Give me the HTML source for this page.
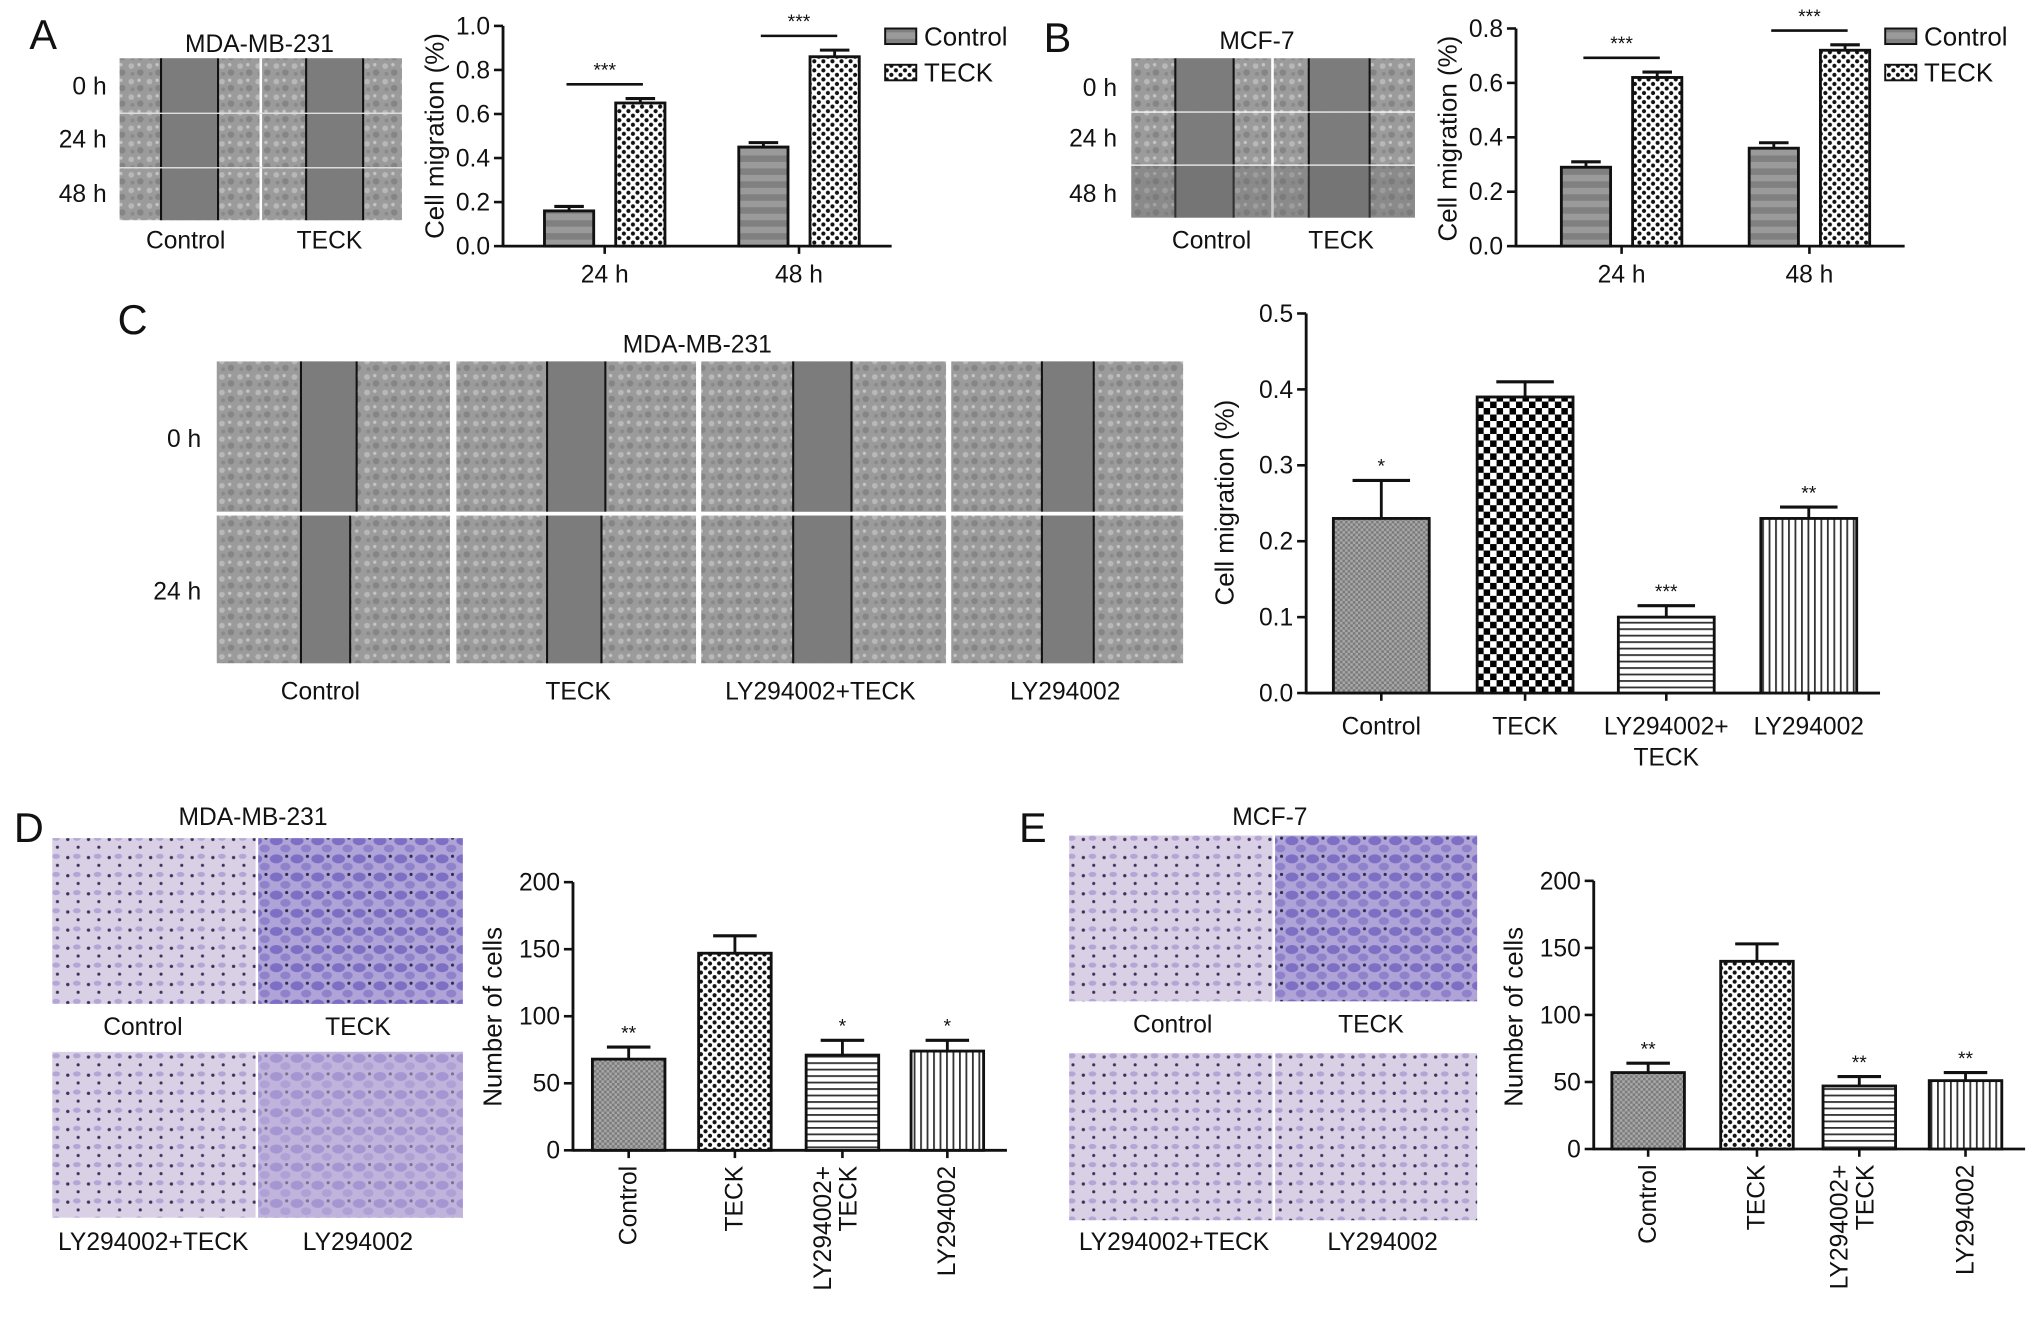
<!DOCTYPE html>
<html><head><meta charset="utf-8">
<style>
html,body{margin:0;padding:0;background:#fff;}
svg{display:block;font-family:"Liberation Sans",Arial,sans-serif;}
</style></head>
<body>
<svg id="fig" width="2032" height="1320" viewBox="0 0 1568 1019" xmlns="http://www.w3.org/2000/svg">
<defs>
  <pattern id="cells" width="14" height="12" patternUnits="userSpaceOnUse">
    <rect width="14" height="12" fill="#9b9b9b"/>
    <circle cx="3" cy="3" r="2.2" fill="#b8b8b8"/>
    <circle cx="10" cy="8" r="2.5" fill="#858585"/>
    <circle cx="9" cy="2" r="1.3" fill="#c4c4c4"/>
    <circle cx="4" cy="9" r="1.5" fill="#8a8a8a"/>
  </pattern>
  <pattern id="purple" width="16" height="14" patternUnits="userSpaceOnUse">
    <rect width="16" height="14" fill="#d9d0e6"/>
    <circle cx="4" cy="4" r="1.3" fill="#3a3358"/>
    <circle cx="12" cy="10" r="1.2" fill="#3a3358"/>
    <ellipse cx="11" cy="3" rx="3" ry="2" fill="#b3a6d6"/>
  </pattern>
  <pattern id="purpleDense" width="16" height="14" patternUnits="userSpaceOnUse">
    <rect width="16" height="14" fill="#b0a3d8"/>
    <ellipse cx="5" cy="5" rx="5" ry="3.5" fill="#7d6fc4"/>
    <ellipse cx="12" cy="11" rx="4" ry="3" fill="#8f82cb"/>
    <circle cx="13" cy="3" r="1.2" fill="#2e2850"/>
  </pattern>
  <pattern id="pGray" width="4" height="4" patternUnits="userSpaceOnUse">
    <rect width="4" height="4" fill="#a8a8a8"/>
    <rect width="2" height="2" fill="#7a7a7a"/><rect x="2" y="2" width="2" height="2" fill="#7a7a7a"/>
  </pattern>
  <pattern id="pStripe" width="4" height="10" patternUnits="userSpaceOnUse">
    <rect width="4" height="10" fill="#9a9a9a"/>
    <rect width="4" height="5" fill="#808080"/>
  </pattern>
  <pattern id="pChk" width="10" height="10" patternUnits="userSpaceOnUse">
    <rect width="10" height="10" fill="#fff"/>
    <rect width="5" height="5" fill="#000"/><rect x="5" y="5" width="5" height="5" fill="#000"/>
  </pattern>
  <pattern id="pChkS" width="7" height="7" patternUnits="userSpaceOnUse">
    <rect width="7" height="7" fill="#fff"/>
    <circle cx="1.8" cy="1.8" r="1.6" fill="#111"/><circle cx="5.3" cy="5.3" r="1.6" fill="#111"/>
  </pattern>
  <pattern id="pH" width="6" height="5" patternUnits="userSpaceOnUse">
    <rect width="6" height="5" fill="#fff"/><rect width="6" height="1.4" fill="#333"/>
  </pattern>
  <pattern id="pV" width="5" height="6" patternUnits="userSpaceOnUse">
    <rect width="5" height="6" fill="#fff"/><rect width="1.4" height="6" fill="#333"/>
  </pattern>
</defs>
<g id="root"></g>
</svg>
<script>
// ---- data ----
const aCategories = ["24 h", "48 h"];
const aControl = [0.16, 0.45];
const aControlErr = [0.02, 0.02];
const aTeck = [0.65, 0.86];
const aTeckErr = [0.02, 0.03];
const aTicks = [0.0, 0.2, 0.4, 0.6, 0.8, 1.0];

const bCategories = ["24 h", "48 h"];
const bControl = [0.29, 0.36];
const bControlErr = [0.02, 0.02];
const bTeck = [0.62, 0.72];
const bTeckErr = [0.02, 0.02];
const bTicks = [0.0, 0.2, 0.4, 0.6, 0.8];

const cCategories = ["Control", "TECK", "LY294002+|TECK", "LY294002"];
const cValues = [0.23, 0.39, 0.10, 0.23];
const cErrors = [0.05, 0.02, 0.015, 0.015];
const cStars = ["*", "", "***", "**"];
const cTicks = [0.0, 0.1, 0.2, 0.3, 0.4, 0.5];

const dCategories = ["Control", "TECK", "LY294002+|TECK", "LY294002"];
const dValues = [68, 147, 71, 74];
const dErrors = [9, 13, 11, 8];
const dStars = ["**", "", "*", "*"];
const dTicks = [0, 50, 100, 150, 200];

const eCategories = ["Control", "TECK", "LY294002+|TECK", "LY294002"];
const eValues = [57, 140, 47, 51];
const eErrors = [7, 13, 7, 6];
const eStars = ["**", "", "**", "**"];
const eTicks = [0, 50, 100, 150, 200];

// ---- helpers ----
const NS = "http://www.w3.org/2000/svg";
const root = document.getElementById("root");
function mk(tag, attrs, parent, text) {
  const e = document.createElementNS(NS, tag);
  for (const k in attrs) e.setAttribute(k, attrs[k]);
  if (text !== undefined) e.textContent = text;
  (parent || root).appendChild(e);
  return e;
}
function txt(x, y, s, size, name, anchor, parent, extra) {
  const t = mk("text", Object.assign({x: x, y: y, "font-size": size, "text-anchor": anchor || "middle", fill: "#111"}, extra || {}), parent, s);
  
  
  return t;
}
function yAxis(g, x, y0, y1, ticks, vmax, fmt, name) {
  const sc = v => y0 - (v / vmax) * (y0 - y1);
  const l = mk("line", {x1: x, y1: y0 + 1, x2: x, y2: y1, stroke: "#111", "stroke-width": 2.2}, g);
  
  
  ticks.forEach(t => {
    mk("line", {x1: x - 7, y1: sc(t), x2: x, y2: sc(t), stroke: "#111", "stroke-width": 2}, g);
    txt(x - 10, sc(t) + 6.5, fmt(t), 19, name + '-y-tick', "end", g);
  });
  return sc;
}
function bar(g, x, w, y0, yv, yerr, fill, name) {
  const r = mk("rect", {x: x, y: yv, width: w, height: y0 - yv, fill: fill, stroke: "#111", "stroke-width": 2.2}, g);
  
  
  const cx = x + w / 2;
  mk("line", {x1: cx, y1: yv, x2: cx, y2: yerr, stroke: "#111", "stroke-width": 2.2}, g);
  mk("line", {x1: cx - w * 0.3, y1: yerr, x2: cx + w * 0.3, y2: yerr, stroke: "#111", "stroke-width": 2.4}, g);
}
function wound(g, x, y, w, h, gaps, name) {
  const r = mk("rect", {x: x, y: y, width: w, height: h, fill: "url(#cells)"}, g);
  
  
  gaps.forEach(gp => {
    mk("rect", {x: gp[0], y: y, width: gp[1] - gp[0], height: h, fill: "#7c7c7c"}, g);
    mk("line", {x1: gp[0], y1: y, x2: gp[0], y2: y + h, stroke: "#111", "stroke-width": 1.6}, g);
    mk("line", {x1: gp[1], y1: y, x2: gp[1], y2: y + h, stroke: "#111", "stroke-width": 1.6}, g);
  });
}

// ===== Panel A =====
const gA = mk("g", {}, root);  
txt(33, 38, "A", 32, 'panel-a-label', "middle", gA);
txt(200, 40, "MDA-MB-231", 19, 'panel-a-image-title', "middle", gA);
[[45, 87], [88, 129], [130, 170]].forEach((r, i) => {
  wound(gA, 92, r[0], 108, r[1] - r[0], [[124, 168]], 'panel-a-control-image-row');
  wound(gA, 202, r[0], 108, r[1] - r[0], [[236, 280]], 'panel-a-teck-image-row');
});
mk("line", {x1: 92, y1: 87.5, x2: 310, y2: 87.5, stroke: "#ddd", "stroke-width": 1}, gA);
mk("line", {x1: 92, y1: 129.5, x2: 310, y2: 129.5, stroke: "#ddd", "stroke-width": 1}, gA);
txt(82, 73, "0 h", 19, 'row-label-0h', "end", gA);
txt(82, 114, "24 h", 19, 'row-label-24h', "end", gA);
txt(82, 156, "48 h", 19, 'row-label-48h', "end", gA);
txt(143, 192, "Control", 19, 'panel-a-control-label', "middle", gA);
txt(254, 192, "TECK", 19, 'panel-a-teck-label', "middle", gA);

function groupChart(g, pfx, axX, y0, y1, vmax, ticks, cats, ctl, ctlE, tk, tkE, groupX, bw, legX) {
  const sc = yAxis(g, axX, y0, y1, ticks, vmax, t => t.toFixed(1), pfx);
  mk("line", {x1: axX, y1: y0, x2: axX + 300, y2: y0, stroke: "#111", "stroke-width": 2.2}, g);
  cats.forEach((c, i) => {
    const gx = groupX[i];
    bar(g, gx, bw, y0, sc(ctl[i]), sc(ctl[i] + ctlE[i]), "url(#pStripe)", pfx + '-bar-control-' + i);
    bar(g, gx + bw + 17, bw, y0, sc(tk[i]), sc(tk[i] + tkE[i]), "url(#pChkS)", pfx + '-bar-teck-' + i);
    const cx = gx + bw + 8.5;
    mk("line", {x1: cx, y1: y0, x2: cx, y2: y0 + 6, stroke: "#111", "stroke-width": 2}, g);
    txt(cx, y0 + 28, c, 19, pfx + '-x-tick', "middle", g);
    const sy = sc(tk[i] + tkE[i]) - 11;
    const sl = mk("line", {x1: gx + bw / 2 - 2, y1: sy, x2: gx + bw * 1.5 + 19, y2: sy, stroke: "#111", "stroke-width": 2}, g);
    
    
    txt(cx, sy - 6, "***", 15, pfx + '-significance-stars', "middle", g);
  });
  const l1 = mk("rect", {x: legX, y: 22, width: 24, height: 12, fill: "url(#pStripe)", stroke: "#111", "stroke-width": 1.5}, g);
   
  txt(legX + 30, 35, "Control", 20, pfx + '-legend-control', "start", g);
  const l2 = mk("rect", {x: legX, y: 50, width: 24, height: 12, fill: "url(#pChkS)", stroke: "#111", "stroke-width": 1.5}, g);
   
  txt(legX + 30, 63, "TECK", 20, pfx + '-legend-teck', "start", g);
  return sc;
}
groupChart(gA, 'chart-a', 388, 190, 20, 1.0, aTicks, aCategories, aControl, aControlErr, aTeck, aTeckErr, [420, 570], 38, 683);
txt(0, 0, "Cell migration (%)", 20, 'chart-a-y-title', "middle", gA, {transform: "translate(342,105) rotate(-90)"});

// ===== Panel B =====
const gB = mk("g", {}, root);  
txt(816, 40, "B", 32, 'panel-b-label', "middle", gB);
txt(970, 38, "MCF-7", 19, 'panel-b-image-title', "middle", gB);
[[45, 86], [87, 127], [128, 168]].forEach((r, i) => {
  wound(gB, 873, r[0], 108, r[1] - r[0], [[907, 952]], 'panel-b-control-image-row');
  wound(gB, 983, r[0], 109, r[1] - r[0], [[1010, 1057]], 'panel-b-teck-image-row');
});
mk("rect", {x: 873, y: 128, width: 219, height: 40, fill: "#6a6a6a", opacity: 0.35}, gB);
txt(862, 74, "0 h", 19, 'row-label-0h', "end", gB);
txt(862, 113, "24 h", 19, 'row-label-24h', "end", gB);
txt(862, 156, "48 h", 19, 'row-label-48h', "end", gB);
txt(935, 192, "Control", 19, 'panel-b-control-label', "middle", gB);
txt(1035, 192, "TECK", 19, 'panel-b-teck-label', "middle", gB);
groupChart(gB, 'chart-b', 1170, 190, 22, 0.8, bTicks, bCategories, bControl, bControlErr, bTeck, bTeckErr, [1205, 1350], 38, 1455);
txt(0, 0, "Cell migration (%)", 20, 'chart-b-y-title', "middle", gB, {transform: "translate(1124,107) rotate(-90)"});

// ===== Panel C =====
const gC = mk("g", {}, root);  
txt(102, 258, "C", 32, 'panel-c-label', "middle", gC);
txt(538, 272, "MDA-MB-231", 19, 'panel-c-image-title', "middle", gC);
const cCols = [[167, 347, [232, 275], [232, 270]], [352, 537, [422, 467], [422, 464]], [541, 730, [612, 657], [612, 657]], [734, 913, [804, 844], [804, 844]]];
cCols.forEach((c, i) => {
  wound(gC, c[0], 279, c[1] - c[0], 116, [c[2]], 'panel-c-image-0h-' + i);
  wound(gC, c[0], 398, c[1] - c[0], 114, [c[3]], 'panel-c-image-24h-' + i);
});
txt(155, 345, "0 h", 19, 'row-label-0h', "end", gC);
txt(155, 463, "24 h", 19, 'row-label-24h', "end", gC);
txt(247, 540, "Control", 19, 'panel-c-label-control', "middle", gC);
txt(446, 540, "TECK", 19, 'panel-c-label-teck', "middle", gC);
txt(633, 540, "LY294002+TECK", 19, 'panel-c-label-ly-teck', "middle", gC);
txt(822, 540, "LY294002", 19, 'panel-c-label-ly', "middle", gC);

function quadChart(g, pfx, axX, y0, y1, vmax, ticks, fmt, cats, vals, errs, stars, centers, bw, rotated, fills) {
  const sc = yAxis(g, axX, y0, y1, ticks, vmax, fmt, pfx);
  mk("line", {x1: axX, y1: y0, x2: centers[3] + bw / 2 + 18, y2: y0, stroke: "#111", "stroke-width": 2.2}, g);
  cats.forEach((c, i) => {
    const cx = centers[i];
    bar(g, cx - bw / 2, bw, y0, sc(vals[i]), sc(vals[i] + errs[i]), fills[i], pfx + '-bar-' + i);
    mk("line", {x1: cx, y1: y0, x2: cx, y2: y0 + 6, stroke: "#111", "stroke-width": 2}, g);
    if (stars[i]) txt(cx, sc(vals[i] + errs[i]) - 6, stars[i], 15, pfx + '-significance-' + i, "middle", g);
    const parts = c.split("|");
    if (!rotated) {
      parts.forEach((p, k) => txt(cx, y0 + 32 + k * 24, p, 19, pfx + '-x-tick', "middle", g));
    } else {
      parts.forEach((p, k) => {
        const xx = cx + (parts.length > 1 ? (k === 0 ? -9 : 11) : 6);
        txt(0, 0, p, 19, pfx + '-x-tick', "end", g, {transform: "translate(" + xx + "," + (y0 + 12) + ") rotate(-90)"});
      });
    }
  });
  return sc;
}
const fillsC = ["url(#pGray)", "url(#pChk)", "url(#pH)", "url(#pV)"];
const fillsDE = ["url(#pGray)", "url(#pChkS)", "url(#pH)", "url(#pV)"];
quadChart(gC, 'chart-c', 1008, 535, 242, 0.5, cTicks, t => t.toFixed(1), cCategories, cValues, cErrors, cStars, [1066, 1177, 1286, 1396], 74, false, fillsC);
txt(0, 0, "Cell migration (%)", 20, 'chart-c-y-title', "middle", gC, {transform: "translate(952,388) rotate(-90)"});

// ===== Panel D =====
const gD = mk("g", {}, root);  
txt(22, 650, "D", 32, 'panel-d-label', "middle", gD);
txt(195, 637, "MDA-MB-231", 19, 'panel-d-image-title', "middle", gD);
function tw(g, x, y, w, h, fill, name) {
  const r = mk("rect", {x: x, y: y, width: w, height: h, fill: fill}, g);
   
}
tw(gD, 40, 647, 157, 128, "url(#purple)", 'transwell-control');
tw(gD, 199, 647, 158, 128, "url(#purpleDense)", 'transwell-teck');
tw(gD, 40, 812, 157, 128, "url(#purple)", 'transwell-ly-teck');
tw(gD, 199, 812, 158, 128, "url(#purpleDense)", 'transwell-ly');
mk("rect", {x: 199, y: 812, width: 158, height: 128, fill: "#d4c8e2", opacity: 0.45}, gD);
txt(110, 799, "Control", 19, 'panel-d-label-control', "middle", gD);
txt(276, 799, "TECK", 19, 'panel-d-label-teck', "middle", gD);
txt(118, 965, "LY294002+TECK", 19, 'panel-d-label-ly-teck', "middle", gD);
txt(276, 965, "LY294002", 19, 'panel-d-label-ly', "middle", gD);
quadChart(gD, 'chart-d', 442, 888, 681, 200, dTicks, t => String(t), dCategories, dValues, dErrors, dStars, [485, 567, 650, 731], 56, true, fillsDE);
txt(0, 0, "Number of cells", 20, 'chart-d-y-title', "middle", gD, {transform: "translate(387,785) rotate(-90)"});

// ===== Panel E =====
const gE = mk("g", {}, root);  
txt(797, 650, "E", 32, 'panel-e-label', "middle", gE);
txt(980, 637, "MCF-7", 19, 'panel-e-image-title', "middle", gE);
tw(gE, 825, 645, 157, 128, "url(#purple)", 'transwell-control');
tw(gE, 984, 645, 156, 128, "url(#purpleDense)", 'transwell-teck');
tw(gE, 825, 813, 157, 129, "url(#purple)", 'transwell-ly-teck');
tw(gE, 984, 813, 156, 129, "url(#purple)", 'transwell-ly');
txt(905, 797, "Control", 19, 'panel-e-label-control', "middle", gE);
txt(1058, 797, "TECK", 19, 'panel-e-label-teck', "middle", gE);
txt(906, 965, "LY294002+TECK", 19, 'panel-e-label-ly-teck', "middle", gE);
txt(1067, 965, "LY294002", 19, 'panel-e-label-ly', "middle", gE);
quadChart(gE, 'chart-e', 1230, 887, 680, 200, eTicks, t => String(t), eCategories, eValues, eErrors, eStars, [1272, 1356, 1435, 1517], 56, true, fillsDE);
txt(0, 0, "Number of cells", 20, 'chart-e-y-title', "middle", gE, {transform: "translate(1175,785) rotate(-90)"});
</script>
</body></html>
